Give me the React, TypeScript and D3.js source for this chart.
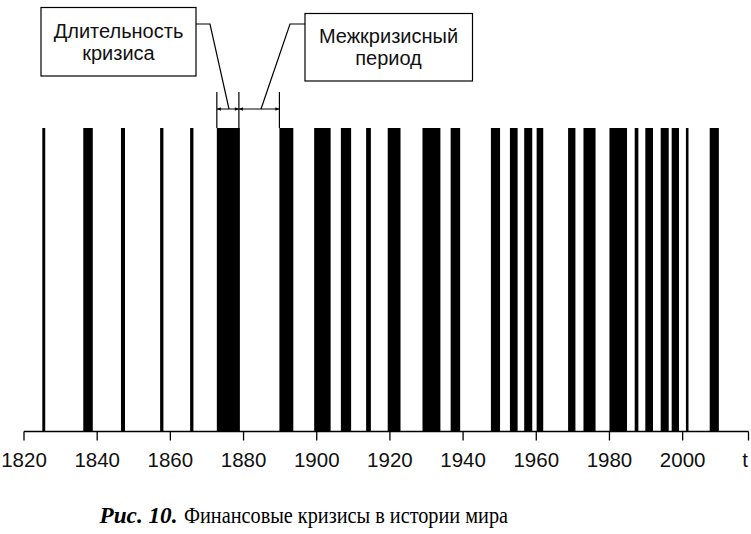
import React from "react";
import * as d3 from "d3";

const crisisStart = [1825.0, 1836.2, 1846.5, 1857.2, 1865.4, 1872.7, 1889.8, 1899.3, 1906.6, 1913.5, 1919.4, 1928.9, 1936.6, 1947.6, 1952.8, 1956.7, 1960.1, 1968.7, 1972.9, 1980.0, 1986.9, 1989.8, 1994.0, 1997.0, 2000.9, 2007.4];
const crisisEnd = [1825.8, 1838.8, 1847.6, 1858.1, 1866.3, 1879.0, 1893.6, 1903.8, 1909.4, 1914.8, 1922.9, 1933.8, 1939.2, 1950.1, 1954.9, 1958.9, 1961.9, 1970.7, 1976.2, 1984.8, 1987.9, 1991.9, 1996.2, 1999.0, 2001.6, 2009.9];
const tickYears = [1820, 1840, 1860, 1880, 1900, 1920, 1940, 1960, 1980, 2000];
const axisEndYear = 2018;
const axisLetter = "t";
const box1Lines = ["Длительность", "кризиса"];
const box2Lines = ["Межкризисный", "период"];
const captionBold = "Рис. 10.";
const captionRest = "Финансовые кризисы в истории мира";

export default function App() {
  const W = 751, H = 534;
  const x = d3.scaleLinear().domain([1820, axisEndYear]).range([24, 748.5]);
  const y0 = 431.5; // axis
  const yTop = 128;
  const sans = "'Liberation Sans', Arial, sans-serif";
  const serif = "'Liberation Serif', 'Times New Roman', serif";

  const dimY = 109;
  const dA = x(crisisStart[5]);
  const dB = x(crisisEnd[5]) - 1;
  const dC = x(crisisStart[6]);
  const ah = 4;
  const arrow = (xp: number, dir: number) =>
    `M${xp},${dimY} L${xp + dir * ah},${dimY - 1.8} L${xp + dir * ah},${dimY + 1.8} Z`;

  return (
    <svg width={W} height={H} style={{ position: "absolute", left: 0, top: 0, background: "#fff" }}>
      <rect x={0} y={0} width={W} height={H} fill="#fff" />
      {crisisStart.map((s, i) => (
        <rect key={i} x={x(s)} y={yTop} width={x(crisisEnd[i]) - x(s)} height={y0 - yTop} fill="#000" />
      ))}
      {/* axis */}
      <line x1={x(1820)} x2={x(axisEndYear)} y1={y0} y2={y0} stroke="#000" strokeWidth={1.5} />
      {tickYears.map((t) => (
        <g key={t}>
          <line x1={x(t)} x2={x(t)} y1={y0} y2={y0 + 9} stroke="#000" strokeWidth={1.3} />
          <text x={x(t)} y={467} textAnchor="middle" fontFamily={sans} fontSize={20.5} fill="#111">{t}</text>
        </g>
      ))}
      <line x1={x(axisEndYear)} x2={x(axisEndYear)} y1={y0} y2={y0 + 9} stroke="#000" strokeWidth={1.3} />
      <text x={745} y={467} textAnchor="middle" fontFamily={sans} fontSize={20.5} fill="#111">{axisLetter}</text>

      {/* dimension lines */}
      {[dA, dB, dC].map((xv, i) => (
        <line key={i} x1={xv} x2={xv} y1={92} y2={yTop} stroke="#000" strokeWidth={1.2} />
      ))}
      <line x1={dA} x2={dC} y1={dimY} y2={dimY} stroke="#000" strokeWidth={1} />
      <path d={arrow(dA, 1)} fill="#000" />
      <path d={arrow(dB, -1)} fill="#000" />
      <path d={arrow(dB, 1)} fill="#000" />
      <path d={arrow(dC, -1)} fill="#000" />

      {/* box 1 */}
      <rect x={41} y={7.5} width={155} height={68.5} fill="#fff" stroke="#000" strokeWidth={1.2} />
      <polyline points={`196,24 210,24 229,${dimY}`} fill="none" stroke="#000" strokeWidth={1.2} />
      <text x={118.5} y={37.5} textAnchor="middle" fontFamily={sans} fontSize={20} fill="#111">{box1Lines[0]}</text>
      <text x={118.5} y={60} textAnchor="middle" fontFamily={sans} fontSize={20} fill="#111">{box1Lines[1]}</text>

      {/* box 2 */}
      <rect x={305} y={13.5} width={167.5} height={67.5} fill="#fff" stroke="#000" strokeWidth={1.2} />
      <polyline points={`305,24 290,24 261,${dimY}`} fill="none" stroke="#000" strokeWidth={1.2} />
      <text x={388.5} y={42.5} textAnchor="middle" fontFamily={sans} fontSize={20} fill="#111">{box2Lines[0]}</text>
      <text x={388.5} y={65} textAnchor="middle" fontFamily={sans} fontSize={20} fill="#111">{box2Lines[1]}</text>

      {/* caption */}
      <text x={99.5} y={523} fontFamily={serif} fontSize={23.5} fontWeight="bold" fontStyle="italic" fill="#000"
        textLength={78} lengthAdjust="spacingAndGlyphs">{captionBold}</text>
      <text x={184} y={523} fontFamily={serif} fontSize={23.5} fill="#000"
        textLength={324} lengthAdjust="spacingAndGlyphs">{captionRest}</text>
    </svg>
  );
}
